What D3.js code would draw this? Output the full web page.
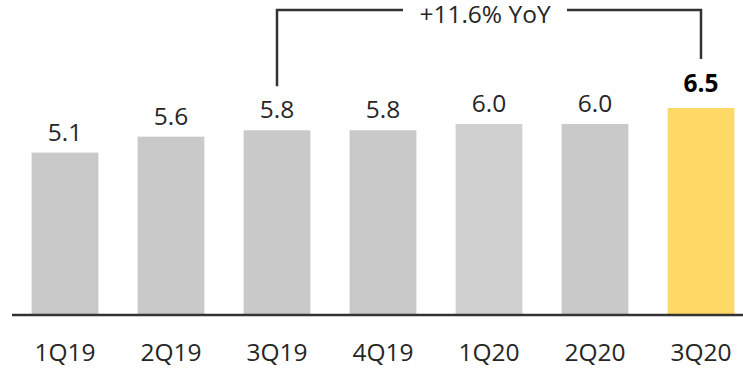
<!DOCTYPE html>
<html>
<head>
<meta charset="utf-8">
<script src="https://cdn.jsdelivr.net/npm/d3@7"></script>
<style>
  html, body { margin: 0; padding: 0; background: #fff; }
  svg { display: block; }
  text { font-family: "Open Sans", "Noto Sans", sans-serif; fill: #262626; }
</style>
</head>
<body>
<svg id="chart" width="743" height="369"></svg>
<script>
// Quarterly values
const quarters = ["1Q19", "2Q19", "3Q19", "4Q19", "1Q20", "2Q20", "3Q20"];
const values = [5.1, 5.6, 5.8, 5.8, 6.0, 6.0, 6.5];
const barColors = ["#c9c9c9", "#c9c9c9", "#c9c9c9", "#c9c9c9", "#d0d0d0", "#c9c9c9", "#ffd966"];
const highlight = "3Q20";
const yoyFrom = "3Q19";
const yoyTo = "3Q20";
const yoyLabel = "+11.6% YoY";

const W = 743, H = 369;
const baseY = 315;
const fontSize = 24.5;
const svg = d3.select("#chart");

const x = d3.scaleBand()
  .domain(quarters)
  .range([12, 754])
  .paddingInner(0.37)
  .paddingOuter(0.185);

const y = d3.scaleLinear()
  .domain([0, 6.5])
  .range([baseY, 108]);

// bars
svg.append("g").selectAll("rect")
  .data(quarters)
  .join("rect")
  .attr("x", d => x(d))
  .attr("width", x.bandwidth())
  .attr("y", (d, i) => y(values[i]))
  .attr("height", (d, i) => y(0) - y(values[i]))
  .attr("fill", (d, i) => barColors[i]);

// value labels
svg.append("g").selectAll("text")
  .data(quarters)
  .join("text")
  .attr("x", d => x(d) + x.bandwidth() / 2)
  .attr("y", (d, i) => y(values[i]) - (d === highlight ? 16 : 12))
  .attr("text-anchor", "middle")
  .style("font-size", fontSize + "px")
  .style("font-weight", d => d === highlight ? "700" : "400")
  .style("fill", d => d === highlight ? "#000" : "#262626")
  .text((d, i) => values[i].toFixed(1));

// category axis
const axis = d3.axisBottom(x).tickSize(0).tickPadding(29);
const gAxis = svg.append("g")
  .attr("transform", `translate(0,${baseY})`)
  .call(axis);
gAxis.select(".domain").remove();
gAxis.selectAll("text")
  .style("font-size", fontSize + "px")
  .style("font-family", "'Open Sans', 'Noto Sans', sans-serif")
  .attr("fill", "#262626");
svg.append("line")
  .attr("x1", 12).attr("x2", W)
  .attr("y1", baseY).attr("y2", baseY)
  .attr("stroke", "#333")
  .attr("stroke-width", 2.5);

// year-over-year bracket
const cx = q => x(q) + x.bandwidth() / 2;
const topY = 10;
const lx = cx(yoyFrom), rx = cx(yoyTo);
const mid = (lx + rx) / 2;
const bracket = svg.append("g")
  .attr("fill", "none")
  .attr("stroke", "#333")
  .attr("stroke-width", 2.5);
bracket.append("path")
  .attr("d", `M${lx},${y(5.8) - 44} V${topY} H${mid - 86}`);
bracket.append("path")
  .attr("d", `M${mid + 78},${topY} H${rx} V${y(6.5) - 49}`);
svg.append("text")
  .attr("x", mid - 4)
  .attr("y", topY + 13)
  .attr("text-anchor", "middle")
  .style("font-size", fontSize + "px")
  .text(yoyLabel);
</script>
</body>
</html>
